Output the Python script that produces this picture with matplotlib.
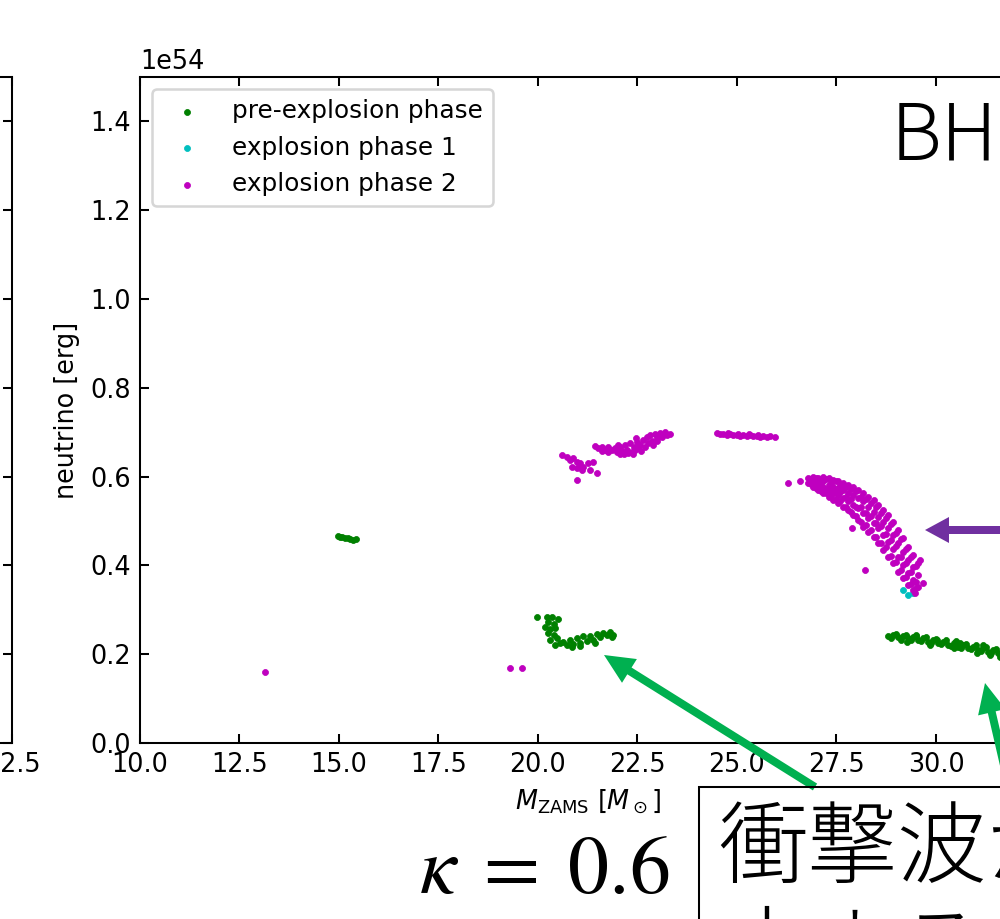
import matplotlib
matplotlib.use("Agg")
import matplotlib.pyplot as plt
from matplotlib.patches import FancyArrow, Rectangle

# ---------------- data (M_ZAMS [Msun], E_nu [1e54 erg]) ----------------
pre_M = [14.98, 15.02, 15.07, 15.15, 15.23, 15.28, 15.36, 15.43,
         19.97, 20.22, 20.34, 20.51, 20.26, 20.39, 20.18, 20.30, 20.43, 20.26, 20.39, 20.30, 20.47, 20.55, 20.43,
         20.64, 20.72, 20.80, 20.89, 20.97, 21.06, 21.14, 21.22, 21.31, 21.39, 21.47, 21.56, 21.64, 21.73, 21.81,
         21.89, 21.85, 21.43, 20.85, 21.06,
         28.80, 28.93, 29.05, 29.18, 29.30, 29.43, 29.56, 29.68, 29.81, 29.93, 30.06, 30.18, 30.31, 30.44, 30.56,
         30.69, 30.81, 30.94, 31.06, 31.19, 31.31, 31.44, 31.57, 29.26, 29.85, 30.44, 31.02, 31.36, 31.61, 29.51,
         30.02, 30.60, 31.19,
         28.86, 28.99, 29.11, 29.24, 29.36, 29.49, 29.62, 29.74, 29.87, 29.99, 30.12, 30.25, 30.37, 30.50, 30.62,
         30.75, 30.87, 31.00, 31.12, 31.25, 31.37, 31.50, 31.62, 31.75, 31.80]
pre_E = [0.466, 0.465, 0.463, 0.461, 0.461, 0.459, 0.457, 0.459,
         0.283, 0.284, 0.283, 0.279, 0.273, 0.268, 0.262, 0.256, 0.258, 0.247, 0.243, 0.232, 0.236, 0.225, 0.221,
         0.228, 0.221, 0.232, 0.224, 0.236, 0.226, 0.240, 0.230, 0.241, 0.233, 0.245, 0.238, 0.247, 0.243, 0.249,
         0.243, 0.238, 0.226, 0.217, 0.218,
         0.241, 0.243, 0.238, 0.241, 0.236, 0.239, 0.232, 0.236, 0.228, 0.232, 0.225, 0.228, 0.221, 0.225, 0.217,
         0.221, 0.213, 0.217, 0.209, 0.213, 0.206, 0.209, 0.202, 0.228, 0.221, 0.213, 0.202, 0.198, 0.194, 0.243,
         0.232, 0.226, 0.221,
         0.236, 0.245, 0.233, 0.244, 0.231, 0.240, 0.229, 0.238, 0.226, 0.235, 0.222, 0.231, 0.219, 0.229, 0.215,
         0.224, 0.211, 0.220, 0.207, 0.216, 0.203, 0.212, 0.201, 0.205, 0.196]

exp1_M = [29.18, 29.30, 29.43]
exp1_E = [0.345, 0.333, 0.337]

exp2_M = [13.15, 19.30, 19.60,
          20.60, 20.72, 20.89, 20.97, 21.06, 20.85, 20.97, 21.14, 21.26, 21.39, 21.31, 21.47, 20.97, 21.10, 20.80, 21.06,
          21.43, 21.52, 21.60, 21.68, 21.77, 21.85, 21.94, 21.98, 22.06, 22.10, 22.19, 22.23, 22.31, 22.35, 22.40,
          22.48, 22.52, 22.56, 22.65, 22.69, 22.73, 22.77, 22.81, 22.86, 22.94, 22.98, 23.07, 23.11, 23.19, 23.23,
          23.32, 22.06, 22.27, 21.77, 22.44,
          22.15, 22.38, 22.60, 22.90, 21.60, 22.00, 22.45, 23.00,
          24.49, 24.57, 24.66, 24.74, 24.82, 24.91, 24.99, 25.08, 25.16, 25.24, 25.33, 25.41, 25.50, 25.58, 25.66,
          25.75, 25.83, 25.95, 24.78, 25.03, 25.29, 25.54,
          26.29, 26.58,
          26.79, 26.79, 26.92, 26.92, 26.92, 27.04, 27.04, 27.04, 27.17, 27.17, 27.17, 27.17,
          27.30, 27.30, 27.30, 27.30, 27.42, 27.42, 27.42, 27.42, 27.55, 27.55, 27.55, 27.55,
          27.67, 27.67, 27.67, 27.67, 27.80, 27.80, 27.80, 27.80, 27.92, 27.92, 27.92, 27.92,
          28.05, 28.05, 28.05, 28.05, 28.17, 28.17, 28.17, 28.17, 28.30, 28.30, 28.30, 28.30,
          28.43, 28.43, 28.43, 28.43, 28.55, 28.55, 28.55, 28.55, 28.68, 28.68, 28.68, 28.68,
          28.80, 28.80, 28.80, 28.80, 28.93, 28.93, 28.93, 28.93, 29.05, 29.05, 29.05, 29.05,
          29.18, 29.18, 29.18, 29.18, 29.30, 29.30, 29.30, 29.30, 29.43, 29.43, 29.43, 29.43,
          29.56, 29.56, 29.56,
          27.88, 28.22, 29.68, 29.60, 29.47,
          26.85, 26.85, 26.98, 26.98, 26.98, 27.10, 27.10, 27.10, 27.23, 27.23, 27.23,
          27.35, 27.35, 27.35, 27.48, 27.48, 27.48, 27.60, 27.60, 27.60, 27.73, 27.73, 27.73,
          27.86, 27.86, 27.86, 27.98, 27.98, 27.98, 28.11, 28.11, 28.11, 28.23, 28.23, 28.23,
          28.36, 28.36, 28.36, 28.48, 28.48, 28.48, 28.61, 28.61, 28.61, 28.74, 28.74, 28.74,
          28.86, 28.86, 28.86, 28.99, 28.99, 28.99, 29.11, 29.11, 29.11, 29.24, 29.24, 29.24,
          29.36, 29.36, 29.36, 29.49, 29.49, 29.49]
exp2_E = [0.160, 0.170, 0.170,
          0.649, 0.645, 0.641, 0.634, 0.630, 0.622, 0.619, 0.622, 0.630, 0.634, 0.615, 0.607, 0.592, 0.615, 0.637, 0.622,
          0.669, 0.664, 0.667, 0.661, 0.666, 0.660, 0.664, 0.656, 0.667, 0.658, 0.671, 0.661, 0.675, 0.656, 0.666,
          0.679, 0.664, 0.671, 0.683, 0.667, 0.690, 0.675, 0.694, 0.681, 0.697, 0.686, 0.699, 0.690, 0.701, 0.694,
          0.696, 0.652, 0.654, 0.656, 0.660,
          0.650, 0.652, 0.658, 0.672, 0.658, 0.672, 0.687, 0.680,
          0.699, 0.696, 0.697, 0.694, 0.696, 0.693, 0.694, 0.692, 0.694, 0.691, 0.693, 0.691, 0.692, 0.690, 0.691,
          0.690, 0.691, 0.690, 0.699, 0.697, 0.696, 0.694,
          0.585, 0.589,
          0.596, 0.585, 0.600, 0.589, 0.577, 0.596, 0.585, 0.570, 0.600, 0.589, 0.577, 0.562,
          0.596, 0.581, 0.566, 0.555, 0.592, 0.577, 0.562, 0.547, 0.589, 0.574, 0.559, 0.540,
          0.585, 0.570, 0.551, 0.532, 0.581, 0.562, 0.544, 0.525, 0.577, 0.559, 0.536, 0.514,
          0.570, 0.551, 0.529, 0.502, 0.562, 0.544, 0.517, 0.487, 0.555, 0.532, 0.506, 0.476,
          0.547, 0.521, 0.495, 0.465, 0.536, 0.510, 0.484, 0.450, 0.525, 0.498, 0.469, 0.435,
          0.514, 0.484, 0.453, 0.420, 0.498, 0.469, 0.438, 0.405, 0.480, 0.450, 0.420, 0.386,
          0.461, 0.431, 0.401, 0.371, 0.442, 0.412, 0.382, 0.356, 0.423, 0.397, 0.367, 0.345,
          0.405, 0.378, 0.352,
          0.484, 0.390, 0.360, 0.412, 0.337,
          0.594, 0.583, 0.596, 0.585, 0.574, 0.591, 0.579, 0.568, 0.594, 0.571, 0.563,
          0.586, 0.574, 0.559, 0.590, 0.565, 0.549, 0.579, 0.565, 0.544, 0.577, 0.553, 0.532,
          0.571, 0.549, 0.521, 0.568, 0.532, 0.511, 0.555, 0.532, 0.498, 0.549, 0.517, 0.491,
          0.540, 0.511, 0.480, 0.532, 0.495, 0.465, 0.519, 0.489, 0.451, 0.506, 0.471, 0.441,
          0.493, 0.457, 0.421, 0.474, 0.444, 0.408, 0.459, 0.420, 0.390, 0.438, 0.405, 0.375,
          0.420, 0.386, 0.358, 0.399, 0.363, 0.348]

labels = ["pre-explosion phase", "explosion phase 1", "explosion phase 2"]
x_ticks = [10.0, 12.5, 15.0, 17.5, 20.0, 22.5, 25.0, 27.5, 30.0, 32.5]
y_ticks = [0.0, 0.2, 0.4, 0.6, 0.8, 1.0, 1.2, 1.4]

# ---------------- figure ----------------
DPI = 184
W, H = 1000, 919
fig = plt.figure(figsize=(W / DPI, H / DPI), dpi=DPI)

ax_l = 0.140
ax_w = 0.8955
ax_b = 1 - 743 / H
ax_h = (743 - 77) / H


def style(ax):
    ax.set_xlim(10, 32.5)
    ax.set_ylim(0, 1.5e54)
    ax.set_xticks(x_ticks)
    ax.set_yticks([v * 1e54 for v in y_ticks])
    ax.tick_params(direction="in", top=True, right=True)


# partially visible neighbouring panel on the left
axL = fig.add_axes([0.012 - ax_w, ax_b, ax_w, ax_h])
style(axL)

ax = fig.add_axes([ax_l, ax_b, ax_w, ax_h])
style(ax)
kw = dict(s=5.5, linewidths=0.3)
ax.scatter(pre_M, [e * 1e54 for e in pre_E], color="g", label=labels[0], **kw)
ax.scatter(exp1_M, [e * 1e54 for e in exp1_E], color="c", label=labels[1], **kw)
ax.scatter(exp2_M, [e * 1e54 for e in exp2_E], color="m", label=labels[2], **kw)
ax.legend(loc="upper left", fontsize=9.7)
ax.set_xlabel(r"$M_{\rm ZAMS}$ [$M_\odot$]")
ax.set_ylabel("neutrino [erg]")

# ---------------- slide overlays ----------------
def px(x, y):
    return x / DPI, (H - y) / DPI

tr = fig.dpi_scale_trans


def arrow(tail, tip, color, w, hw, hl):
    x0, y0 = px(*tail)
    x1, y1 = px(*tip)
    fig.patches.append(FancyArrow(x0, y0, x1 - x0, y1 - y0, width=w / DPI, head_width=hw / DPI,
                                  head_length=hl / DPI, length_includes_head=True,
                                  color=color, transform=tr, figure=fig, lw=0))


arrow((1030, 530), (925, 530), "#7030A0", 8, 26, 24)
arrow((815, 787), (604, 655), "#00B050", 8, 28, 30)
arrow((1012, 800), (985, 683), "#00B050", 8, 28, 30)

cjk = ["Noto Sans CJK JP", "DejaVu Sans"]
fig.text(891 / W, 1 - 160 / H, "BH", fontsize=31, family=cjk,
         fontweight="light", va="baseline", ha="left")

fig.text(419 / W, 1 - 893 / H, r"$\kappa\;=\;0.6$", fontsize=32, math_fontfamily="stix",
         va="baseline", ha="left")

fig.patches.append(Rectangle((699 / W, -0.2), 0.5, 0.2 + 1 - 787 / H, transform=fig.transFigure,
                             fill=False, edgecolor="black", lw=0.8, figure=fig))
fig.text(718 / W, 1 - 876 / H, "衝撃波が", fontsize=35, family=cjk, fontweight="light",
         va="baseline", ha="left")
fig.text(718 / W, 1 - 980 / H, "止まる", fontsize=35, family=cjk, fontweight="light",
         va="baseline", ha="left")

fig.savefig("out.png", dpi=DPI)
